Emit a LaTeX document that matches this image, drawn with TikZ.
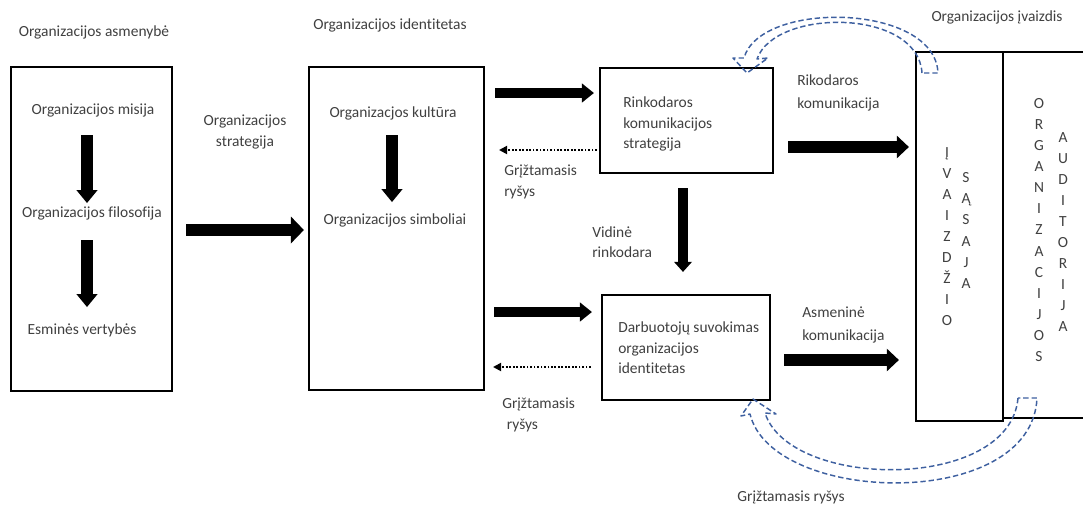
\documentclass[tikz,border=0pt]{standalone}
\usepackage{fontspec}
\setmainfont{Carlito}[Ligatures={NoCommon}]
\usetikzlibrary{arrows.meta,calc}
\definecolor{txt}{RGB}{64,64,64}
\definecolor{fbblue}{RGB}{62,96,160}
\begin{document}
\begin{tikzpicture}[x=0.75pt,y=-0.75pt,
  lbl/.style={text=txt,font=\fontsize{11.6}{15.4}\selectfont,inner sep=0pt},
  lblwide/.style={lbl,font=\fontsize{11.6}{17.5}\selectfont},
  col/.style={text=txt,font=\fontsize{11.6}{15.8}\selectfont,align=center,inner sep=0pt},
  box/.style={draw=black,line width=1.7pt,inner sep=0pt},
  blkbig/.style={line width=9pt,-{Triangle[length=9.75pt,width=20.25pt,line width=0pt]}},
  blkmid/.style={line width=8pt,-{Triangle[length=9pt,width=14.5pt,line width=0pt]}},
  blkout/.style={line width=8.5pt,-{Triangle[length=9pt,width=17pt,line width=0pt]}},
  blkin/.style={line width=9.5pt,-{Triangle[length=9.75pt,width=16pt,line width=0pt]}},
  blksm/.style={line width=7.5pt,-{Triangle[length=7.5pt,width=13.5pt,line width=0pt]}},
  fb/.style={line width=1.5pt,dash pattern=on 1.3pt off 1.3pt,-{Triangle[length=6pt,width=6.5pt,line width=0pt]}},
  curl/.style={draw=fbblue,line width=1.1pt,dash pattern=on 4pt off 2.2pt,line join=round}]
\useasboundingbox (0,0) rectangle (1083,504);

% column titles
\node[lbl] (tasm) at (94,32) {Organizacijos asmenybė};
\node[lbl] (tid)  at (390,25) {Organizacijos identitetas};
\node[lbl] (tiv)  at (997,17) {Organizacijos įvaizdis};

% frames
\node[box,minimum width=161*0.75pt,minimum height=324*0.75pt] (lbox) at (91.5,229) {};
\node[box,minimum width=175*0.75pt,minimum height=323*0.75pt] (mbox) at (396.5,228.5) {};
\node[box,minimum width=173*0.75pt,minimum height=105*0.75pt] (rbox) at (686.5,120.5) {};
\node[box,minimum width=168*0.75pt,minimum height=105*0.75pt] (dbox) at (686,347.5) {};
\node[box,minimum width=87*0.75pt,minimum height=369*0.75pt] (ibox) at (959.5,236.5) {};
\node[box,minimum width=87*0.75pt,minimum height=366*0.75pt] (abox) at (1046.5,235) {};

% left frame contents
\node[lbl] (mis) at (93,111) {Organizacijos misija};
\node[lbl] (fil) at (92,213) {Organizacijos filosofija};
\node[lbl] (ess) at (82,330) {Esminės vertybės};
\draw[blkin] ($(mis)+(-6,24)$) -- ($(fil)+(-5,-10)$);
\draw[blkin] ($(fil)+(-5,27)$) -- ($(ess)+(5,-23)$);

% middle frame contents
\node[lbl] (kul) at (393,113) {Organizacjos kultūra};
\node[lbl] (sim) at (395,220) {Organizacijos simboliai};
\draw[blkin] ($(kul)+(-1,22)$) -- ($(sim)+(-3,-18)$);

\node[lbl,align=center] (strat) at (245,132) {Organizacijos\\strategija};
\draw[blkbig] ($(lbox.east)+(13,1)$) -- ($(mbox.west|-lbox.east)+(-4,1)$);

% communication boxes
\node[lbl,align=left,anchor=west] (rtxt) at (623,124) {Rinkodaros\\komunikacijos\\strategija};
\node[lbl,align=left,anchor=west] (dtxt) at (618,348) {Darbuotojų suvokimas\\organizacijos\\identitetas};

\draw[blkmid] ($(mbox.east|-rbox.west)+(10,-27.5)$) -- ($(rbox.west)+(-5,-27.5)$);
\draw[fb] ($(rbox.west)+(-2,29.5)$) -- ($(mbox.east|-rbox.west)+(14,29.5)$);
\node[lbl,align=left,anchor=west] (fb1) at (504,182) {Grįžtamasis\\ryšys};

\draw[blkmid] ($(mbox.east|-dbox.west)+(9,-35.5)$) -- ($(dbox.west)+(-9,-35.5)$);
\draw[fb] ($(dbox.west)+(-10,19.5)$) -- ($(mbox.east|-dbox.west)+(8,19.5)$);
\node[lbl,align=left,anchor=west] (fb2) at (502,415) {Grįžtamasis\\\hspace*{3.5pt}ryšys};

\draw[blksm] ($(rbox.south)+(-3.5,14)$) -- ($(dbox.north)+(-3,-22)$);
\node[lbl,align=left,anchor=west] (vid) at (592,242) {Vidinė\\rinkodara};

\node[lblwide,align=left,anchor=west] (rkom) at (797,93) {Rikodaros\\komunikacija};
\draw[blkout] ($(rbox.east)+(14,26.5)$) -- ($(ibox.west|-rbox.east)+(-6,26.5)$);
\node[lblwide,align=left,anchor=west] (akom) at (802,325) {Asmeninė\\komunikacija};
\draw[blkout] ($(dbox.east)+(13,12.5)$) -- ($(ibox.west|-dbox.east)+(-16,12.5)$);

% vertical lettering
\node[col] (ivz) at (947,236.5) {Į\\V\\A\\I\\Z\\D\\Ž\\I\\O};
\node[col] (sas) at (966,230.5) {S\\Ą\\S\\A\\J\\A};
\node[col] (org) at (1039,230) {O\\R\\G\\A\\N\\I\\Z\\A\\C\\I\\J\\O\\S};
\node[col] (aud) at (1063,232) {A\\U\\D\\I\\T\\O\\R\\I\\J\\A};

% curved feedback arrows (outlined, dashed)
\draw[curl] (922,73) .. controls (918,8) and (775,8) .. (757,59)
  -- (768,58) -- (747,73) -- (733,58) -- (744,58)
  .. controls (760,0) and (935,3) .. (938,73) -- cycle;
\draw[curl] (1018,398) .. controls (1010,492) and (790,490) .. (765,413)
  -- (776,414) -- (753,399) -- (741,416) -- (750,414)
  .. controls (772,505) and (1032,512) .. (1037,398) -- cycle;
\node[lbl] (fb3) at (791,497) {Grįžtamasis ryšys};
\end{tikzpicture}
\end{document}
